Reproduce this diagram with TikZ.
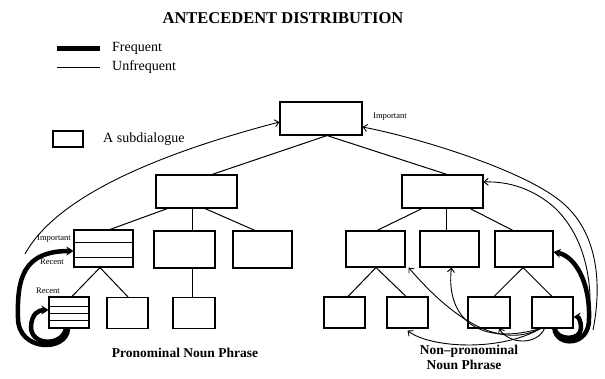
\documentclass[tikz,border=0pt]{standalone}
\usepackage{fontspec}
\setmainfont{Liberation Serif}
\usetikzlibrary{arrows.meta,calc}
\begin{document}
\begin{tikzpicture}[x=1pt,y=-1pt,
  box/.style={draw,line width=1.1pt,rectangle,inner sep=0pt},
  edge/.style={line width=1pt},
  unfreq/.style={line width=0.9pt,-{Straight Barb[length=4pt,width=7pt]}},
  freq/.style={line width=4.5pt,-{Stealth[length=7pt,width=9pt]}},
  small/.style={font=\fontsize{8.5}{9}\selectfont,inner sep=0pt},
  lab/.style={font=\fontsize{14}{15}\selectfont,inner sep=0pt},
  blab/.style={font=\bfseries\fontsize{13.5}{12}\selectfont,inner sep=0pt,align=center}]
\useasboundingbox (0,0) rectangle (605,378);
% title and legend
\node[font=\bfseries\fontsize{16.5}{18}\selectfont,inner sep=0pt] (title) at (283,18) {ANTECEDENT DISTRIBUTION};
\coordinate (lf1) at (57,48); \coordinate (lf2) at (100,48);
\draw[line width=5pt] (lf1) -- (lf2);
\node[lab,anchor=west] (lfreq) at (112,48) {Frequent};
\coordinate (lu1) at (57,67); \coordinate (lu2) at (100,67);
\draw[line width=0.9pt] (lu1) -- (lu2);
\node[lab,anchor=west] (lunf) at (112,67) {Unfrequent};
\node[box,minimum width=30pt,minimum height=16pt] (lbox) at (68,139) {};
\node[lab,anchor=west] (lsub) at (103,139) {A subdialogue};
% boxes
\node[box,minimum width=82pt,minimum height=33pt] (root) at (321,118.5) {};
\node[box,minimum width=81pt,minimum height=33pt] (L1a) at (196.5,191.5) {};
\node[box,minimum width=81pt,minimum height=33pt] (L1b) at (442.5,191.5) {};
\node[box,minimum width=59pt,minimum height=37pt] (L2a) at (103.5,248.5) {};
\node[box,minimum width=61pt,minimum height=37pt] (L2b) at (184.5,249.5) {};
\node[box,minimum width=59pt,minimum height=37pt] (L2c) at (262.5,249.5) {};
\node[box,minimum width=59pt,minimum height=36pt] (L2d) at (375.5,249) {};
\node[box,minimum width=59pt,minimum height=36pt] (L2e) at (449.5,249) {};
\node[box,minimum width=58pt,minimum height=36pt] (L2f) at (524,249) {};
\node[box,minimum width=40pt,minimum height=31pt] (L3a) at (69,312.5) {};
\node[box,minimum width=41pt,minimum height=31pt] (L3b) at (127.5,313) {};
\node[box,minimum width=42pt,minimum height=31pt] (L3c) at (194,313) {};
\node[box,minimum width=41pt,minimum height=31pt] (L3d) at (344.5,312.5) {};
\node[box,minimum width=41pt,minimum height=31pt] (L3e) at (407.5,312.5) {};
\node[box,minimum width=42pt,minimum height=31pt] (L3f) at (489,312.5) {};
\node[box,minimum width=41pt,minimum height=31pt] (L3g) at (552.5,312.5) {};
% stripes
\draw[line width=0.9pt] (L2a.west |- 0,242) -- (L2a.east |- 0,242);
\draw[line width=0.9pt] (L2a.west |- 0,257) -- (L2a.east |- 0,257);
\foreach \yy in {306,313,320} \draw[line width=0.9pt] (L3a.west |- 0,\yy) -- (L3a.east |- 0,\yy);
% tree edges
\draw[edge] ([xshift=6pt]root.south) -- ([xshift=15.5pt]L1a.north);
\draw[edge] ([xshift=6pt]root.south) -- ([xshift=4.5pt]L1b.north);
\draw[edge] ([xshift=-29pt]L1a.south) -- ([xshift=6.5pt]L2a.north);
\draw[edge] ([xshift=-4.5pt]L1a.south) -- ([xshift=7.5pt]L2b.north);
\draw[edge] ([xshift=8.5pt]L1a.south) -- ([xshift=-7.5pt]L2c.north);
\draw[edge] ([xshift=-20.5pt]L1b.south) -- ([xshift=1.5pt]L2d.north);
\draw[edge] ([xshift=3.5pt]L1b.south) -- ([xshift=-3.5pt]L2e.north);
\draw[edge] ([xshift=27.5pt]L1b.south) -- ([xshift=-11pt]L2f.north);
\draw[edge] ([xshift=-3.5pt]L2a.south) -- ([xshift=3pt]L3a.north);
\draw[edge] ([xshift=-3.5pt]L2a.south) -- ([xshift=0.5pt]L3b.north);
\draw[edge] ([xshift=7.5pt]L2b.south) -- ([xshift=-2pt]L3c.north);
\draw[edge] ([xshift=0.5pt]L2d.south) -- ([xshift=3.5pt]L3d.north);
\draw[edge] ([xshift=0.5pt]L2d.south) -- ([xshift=-1.5pt]L3e.north);
\draw[edge] ([xshift=-1pt]L2f.south) -- ([xshift=5pt]L3f.north);
\draw[edge] ([xshift=-1pt]L2f.south) -- ([xshift=-0.5pt]L3g.north);
% left antecedent arrows
\coordinate (lthin) at (25,254);
\draw[freq] ([xshift=-1pt]L3a.south) .. controls (67,352) and (18,352) .. (18,318) .. controls (17,280) and (22,251) .. ([yshift=-2.5pt]L2a.west);
\draw[freq] ([xshift=-3pt]L3a.south) .. controls (62,347) and (30,346) .. (31,326) .. controls (32,314) and (38,310) .. ([yshift=2.5pt]L3a.west);
\draw[unfreq] (lthin) .. controls (60,190) and (180,148) .. ([yshift=-3.5pt]root.west);
\node[small] (limp) at (54,239) {Important};
\node[small] (lrec1) at (52,262) {Recent};
\node[small] (lrec2) at (48,291) {Recent};
% right antecedent arrows
\coordinate (rthinA) at (593,330);
\coordinate (rthinB) at (588,330);
\draw[freq] ([xshift=2pt]L3g.south) .. controls (556,347) and (590,347) .. (589,318) .. controls (590,282) and (575,256) .. ([yshift=-3pt]L2f.east);
\draw[freq] ([xshift=2pt]L3g.south) .. controls (557,341) and (581,341) .. (581,328) .. controls (581,320) and (578,317) .. ([yshift=-4.5pt]L3g.east);
\draw[unfreq] (rthinA) .. controls (602,285) and (598,235) .. (565,205) .. controls (530,172) and (420,138) .. ([yshift=-8.5pt]root.east);
\draw[unfreq] (rthinB) .. controls (594,290) and (588,240) .. (555,208) .. controls (535,190) and (510,181) .. ([yshift=9.5pt]L1b.east);
\node[small,anchor=west] (rimp) at (373,117) {Important};
\draw[unfreq] ([xshift=-12pt]L3g.south) .. controls (495,352) and (445,310) .. ([xshift=3pt]L2d.south east);
\draw[unfreq] ([xshift=-12pt]L3g.south) .. controls (472,348) and (446,312) .. ([xshift=2pt]L2e.south);
\draw[unfreq] ([xshift=-12pt]L3g.south) .. controls (500,352) and (430,348) .. ([yshift=-2pt]L3e.south);
\draw[unfreq] ([xshift=-8pt]L3g.south) .. controls (537,345) and (510,345) .. ([xshift=10pt]L3f.south);
% captions
\node[blab] (pnp) at (185,353) {Pronominal Noun Phrase};
\node[blab] (npnp1) at (469,351.5) {Non–pronominal};
\node[blab] (npnp2) at (464,365) {Noun Phrase};
\end{tikzpicture}
\end{document}
